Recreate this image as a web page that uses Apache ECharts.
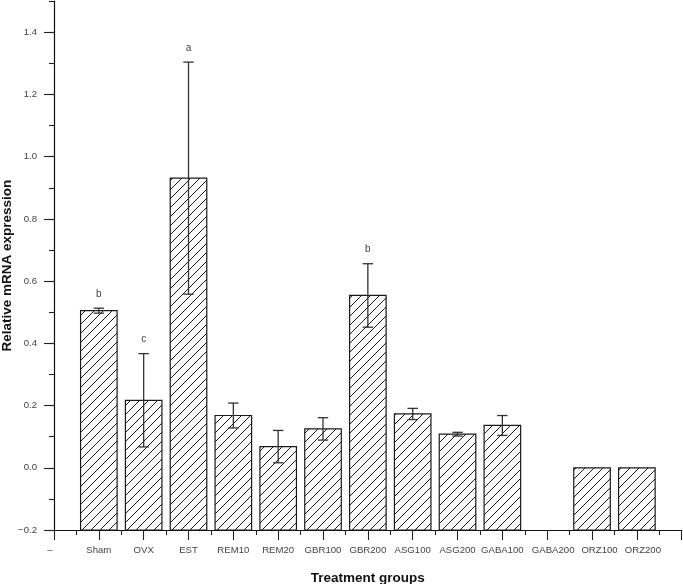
<!DOCTYPE html>
<html><head><meta charset="utf-8">
<script src="https://cdn.jsdelivr.net/npm/echarts@6/dist/echarts.min.js"></script>
<style>html,body{margin:0;padding:0;background:#fff}#c{width:683px;height:584px}</style>
</head><body><div id="c"></div>
<script>
// ---- data ----
const groups = ['Sham','OVX','EST','REM10','REM20','GBR100','GBR200','ASG100','ASG200','GABA100','GABA200','ORZ100','ORZ200'];
const xTickLabels = ['–','Sham','OVX','EST','REM10','REM20','GBR100','GBR200','ASG100','ASG200','GABA100','GABA200','ORZ100','ORZ200',''];
const means  = [0.505, 0.217, 0.931, 0.168, 0.068, 0.125, 0.554, 0.173, 0.108, 0.136, null, 0.0, 0.0];
const errors = [0.008, 0.150, 0.373, 0.040, 0.052, 0.036, 0.102, 0.018, 0.006, 0.032, null, 0.0, 0.0];
const letters = ['b','c','a','','','','b','','','','','',''];
const yMajorTicks = [-0.2, 0.0, 0.2, 0.4, 0.6, 0.8, 1.0, 1.2, 1.4];
const yMajorLabels = ['−0.2','0.0','0.2','0.4','0.6','0.8','1.0','1.2','1.4'];
const Y_MIN = -0.2, Y_MAX = 1.5;

// ---- styles ----
const FONT = 'Liberation Sans, Arial, Helvetica, sans-serif';
// label style keys per tick (visual nudges seen in the reference)
const labelStyleKey = { 0: 'l', 11: 'r', 12: 'r2', 13: 'r' };
function hatch() {
  const s = 9;
  const c = document.createElement('canvas');
  c.width = s; c.height = s;
  const g = c.getContext('2d');
  g.strokeStyle = '#1a1a1a'; g.lineWidth = 1;
  g.beginPath();
  g.moveTo(0, s); g.lineTo(s, 0);
  g.moveTo(-1, 1); g.lineTo(1, -1);
  g.moveTo(s - 1, s + 1); g.lineTo(s + 1, s - 1);
  g.stroke();
  return c;
}
const pattern = { image: hatch(), repeat: 'repeat' };
const lblBase = { fontSize: 9.6, color: '#444', fontFamily: FONT };

const chart = echarts.init(document.getElementById('c'), null, { renderer: 'canvas' });
const seriesData = groups.map((g, k) => [k + 1, means[k] == null ? '-' : means[k]]);

chart.setOption({
  backgroundColor: '#fff',
  animation: false,
  grid: { left: 54, right: 1.3, top: 1.15, bottom: 54, containLabel: false, outerBoundsMode: 'none' },
  xAxis: {
    type: 'value', min: 0, max: 14, interval: 1, position: 'bottom',
    axisLine: { onZero: false, lineStyle: { color: '#111', width: 1.2 } },
    axisTick: { show: true, length: 10, lineStyle: { color: '#222', width: 1.1 } },
    minorTick: { show: true, splitNumber: 2, length: 5, lineStyle: { color: '#222', width: 1.1 } },
    axisLabel: {
      formatter: v => {
        const i = Math.round(v);
        const t = xTickLabels[i] || '';
        if (!t) return '';
        const key = labelStyleKey[i];
        return key ? '{' + key + '|' + t + '}' : '{n|' + t + '}';
      },
      rich: {
        n: Object.assign({}, lblBase),
        l: Object.assign({ padding: [0, 8, 0, 0] }, lblBase),
        r: Object.assign({ padding: [0, 0, 0, 12] }, lblBase),
        r2: Object.assign({ padding: [0, 0, 0, 15] }, lblBase)
      },
      margin: 15, fontSize: 9.6, color: '#444', fontFamily: FONT,
      showMinLabel: true, showMaxLabel: true, hideOverlap: false
    },
    splitLine: { show: false },
    name: 'Treatment groups', nameLocation: 'middle', nameGap: 41,
    nameTextStyle: { fontWeight: 'bold', fontSize: 13.5, color: '#111', fontFamily: FONT }
  },
  yAxis: [
    {
      type: 'value', min: Y_MIN, max: Y_MAX, interval: 0.1, position: 'left',
      axisLine: { show: true, lineStyle: { color: '#111', width: 1.2 } },
      axisTick: { show: true, length: 5, lineStyle: { color: '#222', width: 1.1 } },
      axisLabel: { show: false },
      splitLine: { show: false },
      name: 'Relative mRNA expression', nameLocation: 'middle', nameGap: 40,
      nameTextStyle: { fontWeight: 'bold', fontSize: 13.5, color: '#111', fontFamily: FONT }
    },
    {
      type: 'value', min: Y_MIN, max: Y_MAX, position: 'left',
      axisLine: { show: false },
      axisTick: { show: true, length: 10, customValues: yMajorTicks, lineStyle: { color: '#222', width: 1.1 } },
      axisLabel: { customValues: yMajorTicks, margin: 17, fontSize: 9.6, color: '#444', fontFamily: FONT,
                   formatter: v => { const i = yMajorTicks.findIndex(t => Math.abs(t - v) < 1e-6); return i >= 0 ? yMajorLabels[i] : ''; } },
      splitLine: { show: false }
    }
  ],
  series: [{
    type: 'custom',
    xAxisIndex: 0, yAxisIndex: 0,
    clip: false,
    data: seriesData,
    renderItem(params, api) {
      const k = params.dataIndex;
      const v = means[k];
      if (v == null) return null;
      const x = api.value(0);
      const e = errors[k] || 0;
      const base = api.coord([x, Y_MIN]);
      const top = api.coord([x, v]);
      const w = api.size([1, 0])[0] * 0.815;
      const children = [{
        type: 'rect',
        shape: { x: base[0] - w / 2, y: top[1], width: w, height: base[1] - top[1] },
        style: { fill: pattern, stroke: '#1a1a1a', lineWidth: 1.2 }
      }];
      if (e > 0) {
        const hi = api.coord([x, v + e]);
        const lo = api.coord([x, v - e]);
        const cw = 5.2;
        const st = { stroke: '#333', lineWidth: 1.3 };
        children.push({ type: 'line', shape: { x1: hi[0], y1: hi[1], x2: lo[0], y2: lo[1] }, style: st });
        children.push({ type: 'line', shape: { x1: hi[0] - cw, y1: hi[1], x2: hi[0] + cw, y2: hi[1] }, style: st });
        children.push({ type: 'line', shape: { x1: lo[0] - cw, y1: lo[1], x2: lo[0] + cw, y2: lo[1] }, style: st });
      }
      if (letters[k]) {
        const p = api.coord([x, v + e]);
        children.push({ type: 'text', style: { text: letters[k], x: p[0], y: p[1] - 14, align: 'center', verticalAlign: 'middle',
                        fontSize: 10, fill: '#444', fontFamily: FONT } });
      }
      return { type: 'group', children };
    }
  }]
});
</script>
</body></html>
